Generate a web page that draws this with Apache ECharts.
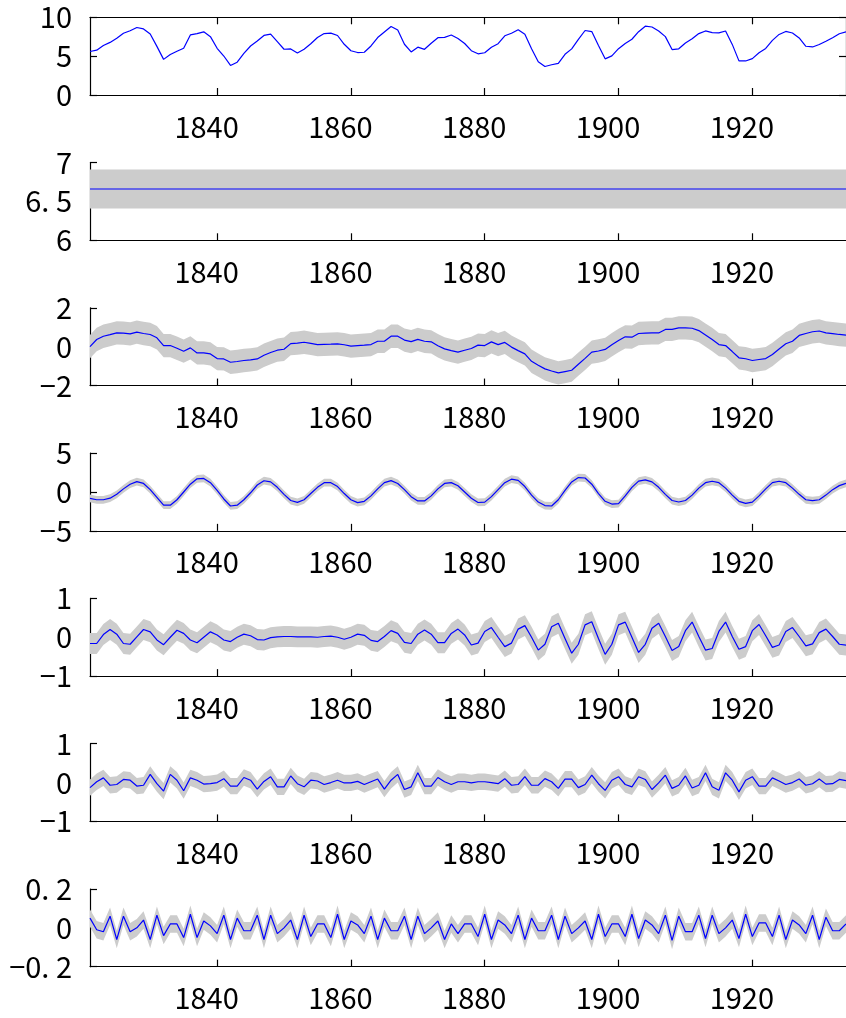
<!DOCTYPE html>
<html><head><meta charset="utf-8">
<script src="https://cdn.jsdelivr.net/npm/echarts@6/dist/echarts.min.js"></script>
<style>html,body{margin:0;padding:0;background:#fff}#c{width:846px;height:1018px}</style>
</head><body><div id="c"></div>
<script>
const years = [1821,1822,1823,1824,1825,1826,1827,1828,1829,1830,1831,1832,1833,1834,1835,1836,1837,1838,1839,1840,
1841,1842,1843,1844,1845,1846,1847,1848,1849,1850,1851,1852,1853,1854,1855,1856,1857,1858,1859,1860,
1861,1862,1863,1864,1865,1866,1867,1868,1869,1870,1871,1872,1873,1874,1875,1876,1877,1878,1879,1880,
1881,1882,1883,1884,1885,1886,1887,1888,1889,1890,1891,1892,1893,1894,1895,1896,1897,1898,1899,1900,
1901,1902,1903,1904,1905,1906,1907,1908,1909,1910,1911,1912,1913,1914,1915,1916,1917,1918,1919,1920,
1921,1922,1923,1924,1925,1926,1927,1928,1929,1930,1931,1932,1933,1934];
const xTickYears = [1840,1860,1880,1900,1920];

// panel 1: observed series
const observed = [5.595,5.771,6.372,6.770,7.296,7.945,8.276,8.690,8.507,7.854,
6.260,4.585,5.215,5.631,6.014,7.734,7.895,8.134,7.509,6.014,
5.017,3.807,4.220,5.361,6.303,6.940,7.663,7.838,6.864,5.889,
5.932,5.416,5.886,6.594,7.401,7.910,7.962,7.659,6.528,5.700,
5.464,5.501,6.314,7.392,8.105,8.813,8.356,6.532,5.541,6.159,
5.881,6.664,7.374,7.424,7.719,7.263,6.628,5.700,5.303,5.434,
6.151,6.601,7.622,7.941,8.396,7.828,5.964,4.290,3.664,3.892,
4.078,5.236,5.932,7.164,8.302,8.159,6.375,4.654,5.030,5.958,
6.631,7.176,8.151,8.852,8.750,8.241,7.515,5.844,5.945,6.695,
7.236,7.906,8.243,8.036,8.001,8.240,6.513,4.394,4.382,4.682,
5.434,5.989,7.032,7.796,8.182,7.984,7.338,6.271,6.184,6.495,
6.908,7.371,7.885,8.130];

// panel 2: level
const levelValue = 6.66;
const levelHalfBand = 0.25;

// panel 3: trend
const trend = [0.0,0.37,0.54,0.62,0.71,0.7,0.66,0.75,0.68,0.63,
0.46,0.06,0.06,-0.08,-0.23,-0.06,-0.32,-0.32,-0.37,-0.61,
-0.63,-0.8,-0.76,-0.71,-0.68,-0.63,-0.44,-0.3,-0.18,-0.13,
0.16,0.18,0.23,0.17,0.11,0.12,0.13,0.15,0.1,0.03,
0.06,0.08,0.11,0.28,0.28,0.54,0.54,0.34,0.26,0.38,
0.28,0.25,0.05,-0.11,-0.2,-0.28,-0.18,-0.09,0.08,0.06,
0.25,0.11,0.22,-0.02,-0.2,-0.37,-0.75,-0.95,-1.14,-1.25,
-1.35,-1.28,-1.21,-0.9,-0.6,-0.28,-0.22,-0.14,0.1,0.32,
0.51,0.49,0.68,0.7,0.71,0.71,0.89,0.89,0.97,0.97,
0.95,0.83,0.6,0.37,0.11,0.06,-0.25,-0.57,-0.62,-0.71,
-0.66,-0.61,-0.4,-0.12,0.15,0.28,0.58,0.68,0.77,0.81,
0.71,0.67,0.63,0.6];
const trendHalfBand = 0.6;

// panel 4: cycle
const cycle = [-0.82,-1.0,-1.0,-0.8,-0.3,0.4,1.0,1.33,1.1,0.3,
-0.7,-1.7,-1.7,-1.0,0.0,1.0,1.7,1.75,1.2,0.2,
-0.9,-1.8,-1.7,-1.0,-0.1,0.9,1.45,1.3,0.6,-0.3,
-1.1,-1.33,-1.0,-0.2,0.6,1.2,1.2,0.7,-0.2,-1.0,
-1.37,-1.2,-0.5,0.4,1.2,1.46,1.1,0.3,-0.6,-1.15,
-1.15,-0.5,0.4,1.1,1.2,0.8,0.0,-0.8,-1.35,-1.3,
-0.6,0.3,1.2,1.65,1.5,0.7,-0.4,-1.3,-1.75,-1.8,
-1.0,0.2,1.3,1.85,1.8,1.0,-0.2,-1.2,-1.55,-1.5,
-0.5,0.6,1.4,1.55,1.3,0.6,-0.3,-1.1,-1.29,-1.1,
-0.4,0.5,1.2,1.38,1.2,0.5,-0.4,-1.2,-1.46,-1.3,
-0.5,0.4,1.2,1.38,1.2,0.5,-0.3,-1.0,-1.12,-1.0,
-0.4,0.3,0.82,1.1];
const cycleHalfBand = 0.5;

// panel 5
const comp5 = [-0.16,-0.16,0.07,0.2,0.08,-0.16,-0.18,0.01,0.2,0.14,
-0.07,-0.19,0.0,0.18,0.1,-0.07,-0.14,0.0,0.14,0.06,
-0.07,-0.11,0.0,0.08,0.04,-0.06,-0.07,-0.01,0.01,0.02,
0.02,0.01,0.01,0.01,0.0,0.02,0.03,0.0,-0.05,0.0,
0.08,0.05,-0.08,-0.11,0.02,0.17,0.1,-0.13,-0.16,0.08,
0.19,0.08,-0.14,-0.14,0.1,0.21,0.06,-0.2,-0.15,0.15,
0.25,0.0,-0.24,-0.15,0.21,0.3,0.0,-0.33,-0.18,0.27,
0.36,-0.03,-0.41,-0.18,0.32,0.4,-0.03,-0.44,-0.18,0.32,
0.39,0.0,-0.39,-0.18,0.23,0.36,0.02,-0.34,-0.24,0.17,
0.39,0.02,-0.33,-0.29,0.15,0.39,0.02,-0.31,-0.24,0.17,
0.33,0.04,-0.26,-0.2,0.15,0.25,0.02,-0.22,-0.17,0.12,
0.21,0.02,-0.18,-0.2];
const comp5HalfBand = 0.27;

// panel 6
const comp6 = [-0.13,0.02,0.12,-0.07,-0.05,0.08,0.06,-0.09,-0.07,0.21,
-0.03,-0.22,0.21,0.06,-0.21,0.12,0.06,-0.04,-0.03,0.0,
0.1,-0.09,-0.09,0.13,0.06,-0.17,0.03,0.15,-0.11,-0.11,
0.17,-0.03,-0.11,0.06,0.04,-0.05,0.0,0.06,-0.01,-0.01,
0.03,-0.05,0.02,0.09,-0.17,0.06,0.21,-0.18,-0.11,0.25,
-0.09,-0.09,0.13,0.02,-0.05,0.02,0.02,-0.01,0.02,0.02,
0.0,-0.03,0.1,-0.07,-0.05,0.15,-0.07,-0.07,0.1,0.02,
-0.15,0.09,0.09,-0.13,-0.05,0.19,-0.03,-0.2,0.06,0.15,
-0.05,-0.11,0.15,0.08,-0.18,-0.01,0.19,-0.15,-0.07,0.17,
-0.14,-0.07,0.25,-0.11,-0.2,0.25,0.06,-0.24,0.06,0.15,
-0.09,-0.09,0.12,0.04,-0.05,0.0,0.09,-0.07,-0.03,0.09,
-0.04,-0.03,0.08,0.05];
const comp6HalfBand = 0.21;

// panel 7
const comp7 = [0.05,-0.01,-0.02,0.06,-0.06,0.06,-0.02,0.0,0.04,-0.06,
0.065,-0.04,0.02,0.02,-0.05,0.07,-0.05,0.035,0.01,-0.03,
0.065,-0.06,0.05,-0.015,-0.015,0.065,-0.06,0.065,-0.03,0.0,
0.04,-0.06,0.065,-0.045,0.02,0.02,-0.05,0.07,-0.06,0.035,
0.015,-0.03,0.06,-0.06,0.05,-0.015,-0.015,0.06,-0.06,0.06,
-0.03,0.0,0.035,-0.06,0.02,-0.03,0.02,0.02,-0.045,0.07,
-0.06,0.04,0.015,-0.03,0.065,-0.06,0.05,-0.015,-0.015,0.065,
-0.06,0.06,-0.03,0.0,0.035,-0.06,0.07,-0.045,0.02,0.02,
-0.045,0.07,-0.055,0.04,0.015,-0.03,0.065,-0.065,0.06,-0.02,
-0.02,0.065,-0.055,0.065,-0.03,0.0,0.04,-0.055,0.07,-0.045,
0.025,0.025,-0.045,0.065,-0.06,0.04,0.015,-0.03,0.065,-0.06,
0.055,-0.015,-0.015,0.02];
const comp7HalfBand = 0.045;

const yMins = [0, 6, -2, -5, -1, -1, -0.2];
const yMaxs = [10, 7, 2, 5, 1, 1, 0.2];
const yIntervals = [5, 0.5, 2, 5, 1, 1, 0.2];
const yTickLabels = [['0','5','10'],['6','6. 5','7'],['−2','0','2'],['−5','0','5'],['−1','0','1'],['−1','0','1'],['−0. 2','0','0. 2']];

const FONT = '"Noto Sans CJK JP", "Noto Sans", sans-serif';
const FS = 29;
const chart = echarts.init(document.getElementById('c'), null, {renderer:'canvas'});

const grids = [], xAxes = [], yAxes = [], series = [];
const pxPerYear = 6.75;
const gridLeft = 90, gridWidth = (years[years.length-1]-years[0]) * pxPerYear;
for (let i = 0; i < 7; i++) {
  const top = 17.3 + 145.28 * i;
  grids.push({left: gridLeft, top: top, width: gridWidth, height: 77.7, show: false});
  xAxes.push({
    type: 'value', gridIndex: i, min: years[0], max: years[years.length-1],
    axisLine: {show: true, onZero: false, lineStyle: {color: '#000', width: 1.2}},
    axisTick: {show: true, inside: true, length: 7, customValues: xTickYears, lineStyle: {color: '#000', width: 1.2}},
    axisLabel: {show: true, customValues: xTickYears, margin: 17, fontSize: FS, fontFamily: FONT, color: '#000',
      padding: [0, 21, 0, 0], formatter: v => String(v)},
    splitLine: {show: false}
  });
  const labels = yTickLabels[i];
  const mn = yMins[i], iv = yIntervals[i];
  yAxes.push({
    type: 'value', gridIndex: i, min: yMins[i], max: yMaxs[i], interval: yIntervals[i],
    axisLine: {show: true, onZero: false, lineStyle: {color: '#000', width: 1.2}},
    axisTick: {show: true, inside: true, length: 7, lineStyle: {color: '#000', width: 1.2}},
    axisLabel: {show: true, margin: 18, fontSize: FS, fontFamily: FONT, color: '#000', padding: [8, 0, 0, 0],
      formatter: v => labels[Math.round((v - mn) / iv)]},
    splitLine: {show: false}
  });
}
// box for panel 1
xAxes.push({type:'value', gridIndex:0, position:'top', min: years[0], max: years[years.length-1],
  axisLine:{show:true, onZero:false, lineStyle:{color:'#000', width:1.2}},
  axisTick:{show:true, inside:true, length:7, customValues: xTickYears, lineStyle:{color:'#000', width:1.2}},
  axisLabel:{show:false, customValues: xTickYears}, splitLine:{show:false}});
yAxes.push({type:'value', gridIndex:0, position:'right', min: yMins[0], max: yMaxs[0], interval: yIntervals[0],
  axisLine:{show:true, onZero:false, lineStyle:{color:'#000', width:1.2}},
  axisTick:{show:true, inside:true, length:7, lineStyle:{color:'#000', width:1.2}},
  axisLabel:{show:false}, splitLine:{show:false}});

function lineSeries(i, xs, ys) {
  return {type:'line', xAxisIndex:i, yAxisIndex:i, data: xs.map((x, j) => [x, ys[j]]),
    showSymbol:false, symbol:'none', silent:true, animation:false, z:3,
    lineStyle:{color:'#0000ff', width:1.2}};
}
function bandSeries(i, xs, ys, hw) {
  return {type:'custom', xAxisIndex:i, yAxisIndex:i, silent:true, animation:false, clip:true, z:1,
    data:[[xs[0], ys[0]]],
    renderItem: (params, api) => {
      const pts = [];
      for (let j = 0; j < xs.length; j++) pts.push(api.coord([xs[j], ys[j] + hw]));
      for (let j = xs.length - 1; j >= 0; j--) pts.push(api.coord([xs[j], ys[j] - hw]));
      return {type:'polygon', shape:{points: pts}, style:{fill:'#cccccc'}};
    }};
}

series.push(lineSeries(0, years, observed));
const levelXs = [years[0], years[years.length-1]];
const levelYs = [levelValue, levelValue];
series.push(bandSeries(1, levelXs, levelYs, levelHalfBand));
series.push(lineSeries(1, levelXs, levelYs));
const comps = [[trend, trendHalfBand],[cycle, cycleHalfBand],[comp5, comp5HalfBand],[comp6, comp6HalfBand],[comp7, comp7HalfBand]];
comps.forEach((c, k) => {
  series.push(bandSeries(k + 2, years, c[0], c[1]));
  series.push(lineSeries(k + 2, years, c[0]));
});

chart.setOption({animation:false, backgroundColor:'#fff', grid: grids, xAxis: xAxes, yAxis: yAxes, series: series});
</script></body></html>
